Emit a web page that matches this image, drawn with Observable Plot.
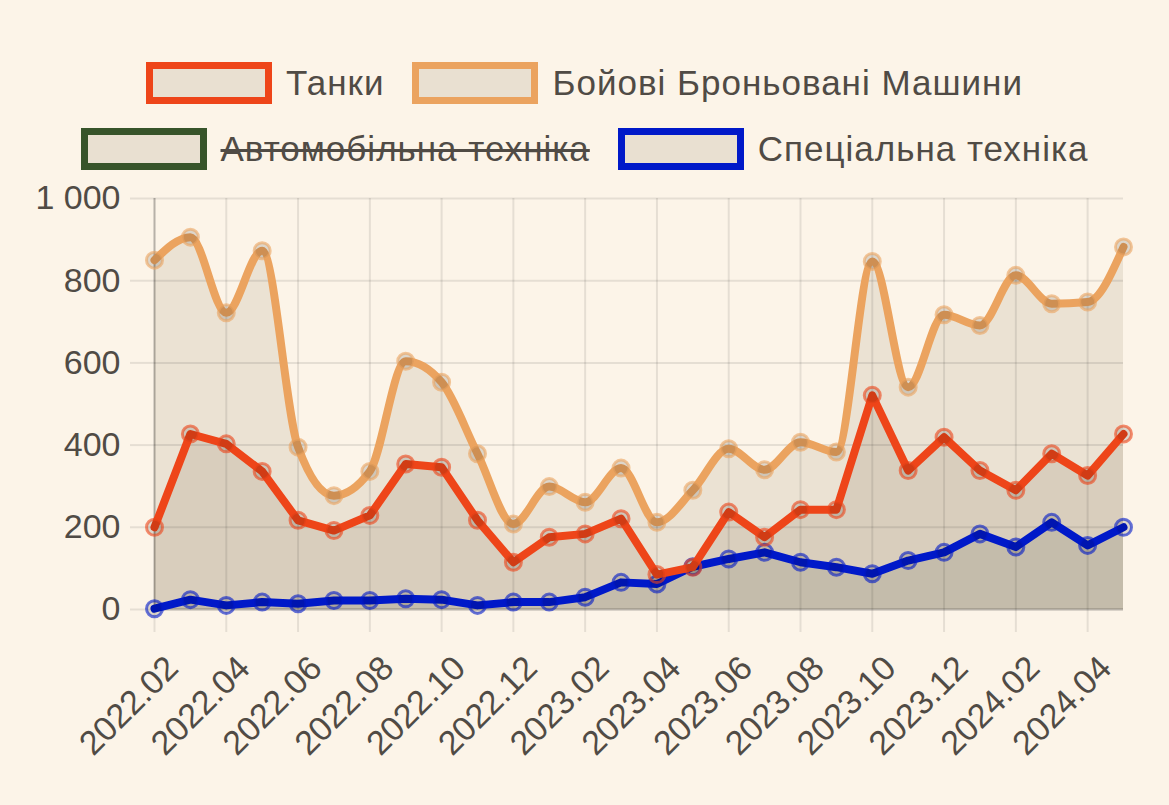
<!DOCTYPE html>
<html>
<head>
<meta charset="utf-8">
<script src="https://cdn.jsdelivr.net/npm/d3@7"></script>
<script src="https://cdn.jsdelivr.net/npm/@observablehq/plot@0.6"></script>
<style>
  html, body { margin: 0; padding: 0; background: #fcf4e8; }
  body { width: 1169px; height: 805px; overflow: hidden; font-family: "Liberation Sans", Arial, sans-serif; color: #504b45; }
  #legend { height: 170px; box-sizing: border-box; padding-top: 62px; }
  .row { display: flex; justify-content: center; align-items: center; height: 42px; margin-bottom: 24px; }
  .item { display: flex; align-items: center; margin: 0 14px; }
  .box { width: 112px; height: 28px; border: 7px solid; background: #e9e0d1; margin-right: 14px; }
  .lab { font-size: 35px; letter-spacing: 1px; }
  .hidden { text-decoration: line-through; text-decoration-thickness: 3px; }
  #chart svg { display: block; overflow: visible; }
</style>
</head>
<body>
<div id="legend"></div>
<div id="chart"></div>
<script>
const months = ["2022.02","2022.03","2022.04","2022.05","2022.06","2022.07","2022.08","2022.09","2022.10","2022.11","2022.12",
  "2023.01","2023.02","2023.03","2023.04","2023.05","2023.06","2023.07","2023.08","2023.09","2023.10","2023.11","2023.12",
  "2024.01","2024.02","2024.03","2024.04","2024.05"];
const tanks = [200,427,403,336,217,192,229,354,346,217,115,176,184,221,85,103,237,176,243,243,521,338,419,338,290,379,326,427];
const bbm = [850,906,722,873,395,277,336,604,553,379,208,299,261,344,212,290,391,340,407,383,847,541,717,691,813,744,748,882];
const special = [2,24,10,18,14,22,22,26,24,10,18,18,30,66,62,104,123,139,115,103,87,119,139,184,152,212,156,200];
const seriesNames = ["Танки","Бойові Броньовані Машини","Автомобільна техніка","Спеціальна техніка"];
const seriesColors = ["#ee4519","#eba35f","#37542a","#0019c9"];
const hiddenSeries = ["Автомобільна техніка"];
const yTicks = [0,200,400,600,800,1000];

// Legend
const legend = document.getElementById("legend");
const rows = [[0,1],[2,3]];
for (const r of rows) {
  const row = document.createElement("div");
  row.className = "row";
  for (const i of r) {
    const it = document.createElement("div");
    it.className = "item";
    const b = document.createElement("div");
    b.className = "box";
    b.style.borderColor = seriesColors[i];
    const t = document.createElement("span");
    t.className = "lab" + (hiddenSeries.includes(seriesNames[i]) ? " hidden" : "");
    t.textContent = seriesNames[i];
    it.appendChild(b); it.appendChild(t);
    row.appendChild(it);
  }
  legend.appendChild(row);
}

const rowsT = months.map((m, i) => ({m, tanks: tanks[i], bbm: bbm[i], special: special[i]}));
const xTicks = months.filter((d, i) => i % 2 === 0);
const fmt = d => d3.format(",")(d).replace(/,/g, " ");

const dotStyle = (key, color) => Plot.dot(rowsT, {x: "m", y: key, r: 8, stroke: color, strokeWidth: 3, strokeOpacity: 0.6, fill: "#000", fillOpacity: 0.12});

const chart = Plot.plot({
  width: 1169,
  height: 635,
  marginLeft: 154,
  marginRight: 46,
  marginTop: 28,
  marginBottom: 196,
  style: {background: "transparent", fontFamily: "Liberation Sans, Arial, sans-serif", color: "#504b45", overflow: "visible"},
  x: {type: "point", domain: months, padding: 0, round: false, label: null},
  y: {domain: [0, 1000], label: null},
  marks: [
    Plot.areaY(rowsT, {x: "m", y: "bbm", fill: "#ebe2d3", curve: "monotone-x"}),
    Plot.areaY(rowsT, {x: "m", y: "tanks", fill: "#d9cebd"}),
    Plot.areaY(rowsT, {x: "m", y: "special", fill: "#c4bcab"}),
    Plot.gridX(xTicks, {stroke: "#000", strokeOpacity: 0.09, strokeWidth: 2}),
    Plot.gridY(yTicks, {stroke: "#000", strokeOpacity: 0.09, strokeWidth: 2}),
    Plot.axisX(xTicks, {tickSize: 23, text: null, stroke: "#000", strokeOpacity: 0.09, strokeWidth: 2, label: null}),
    Plot.axisX(xTicks, {tickSize: 23, tickRotate: -45, fontSize: 34, tickPadding: 6, dx: 18, dy: 24, strokeOpacity: 0, fill: "#504b45", label: null}),
    Plot.axisY(yTicks, {tickSize: 24, tickFormat: fmt, fontSize: 34, tickPadding: 10, stroke: "#000", strokeOpacity: 0.09, strokeWidth: 2, fill: "#504b45", label: null}),
    Plot.ruleX([months[0]], {stroke: "#000", strokeOpacity: 0.2, strokeWidth: 2}),
    Plot.ruleY([0], {stroke: "#000", strokeOpacity: 0.2, strokeWidth: 2}),
    Plot.lineY(rowsT, {x: "m", y: "special", stroke: seriesColors[3], strokeWidth: 8}),
    dotStyle("special", seriesColors[3]),
    Plot.lineY(rowsT, {x: "m", y: "bbm", stroke: seriesColors[1], strokeWidth: 8, curve: "monotone-x"}),
    dotStyle("bbm", seriesColors[1]),
    Plot.lineY(rowsT, {x: "m", y: "tanks", stroke: seriesColors[0], strokeWidth: 8}),
    dotStyle("tanks", seriesColors[0])
  ]
});
document.getElementById("chart").appendChild(chart);
</script>
</body>
</html>
